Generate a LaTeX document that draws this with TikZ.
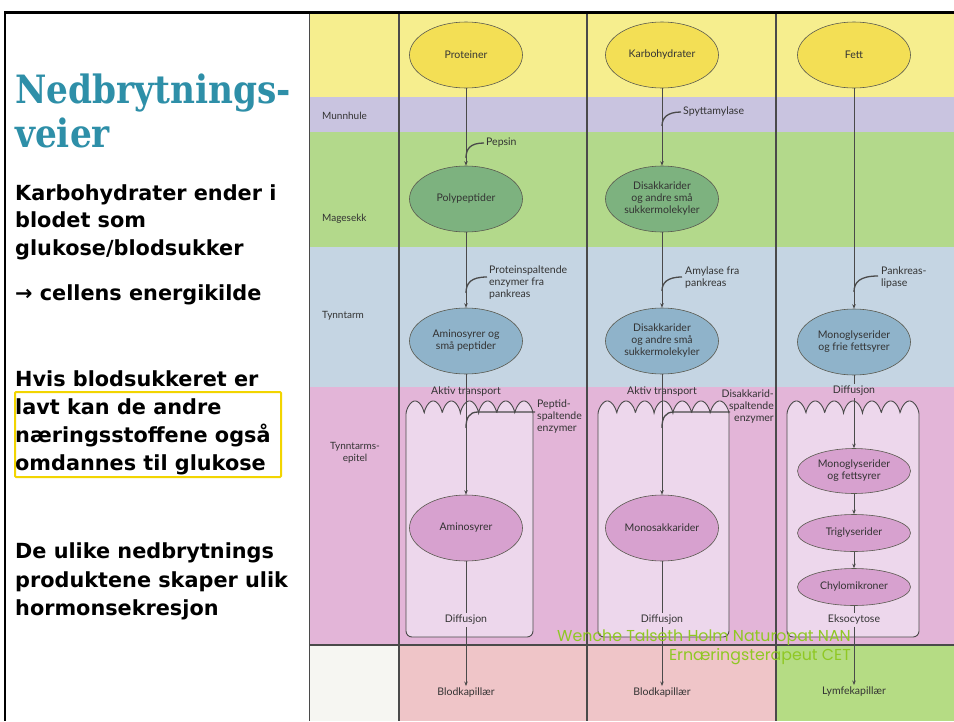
\documentclass[tikz,border=0pt]{standalone}
\usepackage{fontspec}
\usetikzlibrary{arrows.meta,shapes.geometric}
\setmainfont{Lato}
\newfontfamily\titlefont{DejaVu Serif}[FakeStretch=0.88]
\newfontfamily\bodyfont{DejaVu Sans}
\newfontfamily\wmfont{Poppins}
\definecolor{bandY}{HTML}{F6EE8E}
\definecolor{bandP}{HTML}{C9C4E0}
\definecolor{bandG}{HTML}{B3D98B}
\definecolor{bandB}{HTML}{C5D5E3}
\definecolor{bandK}{HTML}{E3B5D8}
\definecolor{innerK}{HTML}{EDD7EC}
\definecolor{botW}{HTML}{F6F6F2}
\definecolor{botR}{HTML}{EFC5C8}
\definecolor{botG}{HTML}{B5DC84}
\definecolor{ovY}{HTML}{F3DF55}
\definecolor{ovG}{HTML}{7DB27F}
\definecolor{ovB}{HTML}{8FB3CA}
\definecolor{ovP}{HTML}{D7A1CF}
\definecolor{ovline}{HTML}{5A5A50}
\definecolor{colline}{HTML}{4A4A4A}
\definecolor{txt}{HTML}{333333}
\definecolor{titlecol}{HTML}{2E8FA8}
\definecolor{ybox}{HTML}{F2D500}
\definecolor{wmgreen}{HTML}{8FC824}
\begin{document}
\begin{tikzpicture}[x=1pt,y=-1pt,
  oval/.style={ellipse, draw=ovline, line width=0.6pt, minimum width=113pt, minimum height=66pt,
    inner sep=0pt, align=center, text=txt, font=\fontsize{10.5}{12}\selectfont},
  yov/.style={oval, fill=ovY},
  gov/.style={oval, fill=ovG},
  bov/.style={oval, fill=ovB},
  pov/.style={oval, fill=ovP},
  lbl/.style={inner sep=2pt, text=txt, font=\fontsize{10.5}{12}\selectfont},
  enzlbl/.style={inner sep=1pt, text=txt, font=\fontsize{10.5}{12}\selectfont},
  side/.style={inner sep=0pt, text=txt, font=\fontsize{10}{12}\selectfont},
  arr/.style={draw=colline, line width=0.8pt, -{Stealth[length=4.5pt,width=3.5pt]}},
  plain/.style={draw=colline, line width=0.8pt},
  enz/.style={draw=colline, line width=1.3pt},
  boxline/.style={draw=colline, line width=0.9pt},
  title/.style={anchor=base west, inner sep=0pt, text=titlecol, font=\titlefont\bfseries\fontsize{39}{44}\selectfont},
  body/.style={anchor=base west, inner sep=0pt, font=\bodyfont\bfseries\fontsize{20.8}{28}\selectfont},
  wm/.style={anchor=base east, inner sep=0pt, text=wmgreen, font=\wmfont\fontsize{15.8}{18}\selectfont}
]
\useasboundingbox (0,0) rectangle (954,721);
\fill[white] (0,0) rectangle (954,721);
% bands
\fill[bandY] (310,12) rectangle (954,97);
\fill[bandP] (310,97) rectangle (954,132);
\fill[bandG] (310,132) rectangle (954,247);
\fill[bandB] (310,247) rectangle (954,387);
\fill[bandK] (310,387) rectangle (954,645);
\fill[botW] (310,645) rectangle (399,721);
\fill[botR] (399,645) rectangle (776,721);
\fill[botG] (776,645) rectangle (954,721);
% column lines
\draw[colline, line width=0.6pt] (309.7,13) -- (309.7,721);
\foreach \cx in {399,587,776}{\draw[colline, line width=1.2pt] (\cx,13) -- (\cx,721);}
\draw[colline, line width=1.2pt] (310,645) -- (954,645);
% frame
\draw[line width=3pt] (4,12) -- (954,12);
\draw[line width=2pt] (5,12) -- (5,721);
% epithelial cells with microvilli
\foreach \a/\b in {406/533,598/729,787/919}{
  \filldraw[fill=innerK, boxline] plot[domain=\a:\b, samples=300] (\x,{414-13*(abs(sin((\x-\a)/(\b-\a)*7*180))+0.001)^0.6})
    [rounded corners=6pt] -- (\b,637) -- (\a,637) -- (\a,414);
}
% side labels
\node[side, anchor=west] (munn) at (322,116) {Munnhule};
\node[side, anchor=west] (mage) at (322,219) {Magesekk};
\node[side, anchor=west] (tynn) at (322,316) {Tynntarm};
\node[side, align=center] (epi) at (355,453) {Tynntarms-\\epitel};
% ovals
\node[yov] (prot) at (466,55) {Proteiner};
\node[yov] (karb) at (662,55) {Karbohydrater};
\node[yov] (fett) at (854,55) {Fett};
\node[gov] (poly) at (466,199) {Polypeptider};
\node[gov] (disG) at (662,199) {Disakkarider\\og andre små\\sukkermolekyler};
\node[bov] (amp) at (466,341) {Aminosyrer og\\små peptider};
\node[bov] (disB) at (662,341) {Disakkarider\\og andre små\\sukkermolekyler};
\node[bov] (mgB) at (854,342) {Monoglyserider\\og frie fettsyrer};
\node[pov] (amino) at (466,528) {Aminosyrer};
\node[pov] (mono) at (662,528) {Monosakkarider};
\node[pov, minimum height=45pt] (mgP) at (854,471) {Monoglyserider\\og fettsyrer};
\node[pov, minimum height=37pt] (trig) at (854,533) {Triglyserider};
\node[pov, minimum height=37pt] (chylo) at (854,587) {Chylomikroner};
% process labels
\node[lbl] (akt1) at (466,392) {Aktiv transport};
\node[lbl] (akt2) at (662,392) {Aktiv transport};
\node[lbl] (dif3) at (854,391) {Diffusjon};
\node[lbl] (dif1) at (466,620) {Diffusjon};
\node[lbl] (dif2) at (662,620) {Diffusjon};
\node[lbl] (eks) at (854,620) {Eksocytose};
\node[lbl] (blod1) at (466,693) {Blodkapillær};
\node[lbl] (blod2) at (662,693) {Blodkapillær};
\node[lbl] (lymf) at (854,692) {Lymfekapillær};
% enzyme labels
\node[enzlbl, anchor=west] (pep) at (485,143) {Pepsin};
\node[enzlbl, anchor=west] (spytt) at (682,112) {Spyttamylase};
\node[enzlbl, anchor=west, align=left] (protenz) at (488,283) {Proteinspaltende\\enzymer fra\\pankreas};
\node[enzlbl, anchor=west, align=left] (amyl) at (684,278) {Amylase fra\\pankreas};
\node[enzlbl, anchor=west, align=left] (lip) at (880,278) {Pankreas-\\lipase};
\node[enzlbl, anchor=west, align=left] (pepenz) at (536,417) {Peptid-\\spaltende\\enzymer};
\node[enzlbl, anchor=east, align=right] (disenz) at (775,407) {Disakkarid-\\spaltende\\enzymer};
% connectors column 1
\draw[arr] (prot) -- (poly);
\draw[arr] (poly) -- (amp);
\draw[arr] (amp) -- (amino);
\draw[plain] (amino) -- (dif1);
\draw[arr] (dif1) -- (blod1);
% column 2
\draw[arr] (karb) -- (disG);
\draw[arr] (disG) -- (disB);
\draw[arr] (disB) -- (mono);
\draw[plain] (mono) -- (dif2);
\draw[arr] (dif2) -- (blod2);
% column 3
\draw[arr] (fett) -- (mgB);
\draw[plain] (mgB) -- (dif3);
\draw[arr] (dif3) -- (mgP);
\draw[arr] (mgP) -- (trig);
\draw[arr] (trig) -- (chylo);
\draw[plain] (chylo) -- (eks);
\draw[arr] (eks) -- (lymf);
% enzyme curves
\coordinate (pepS) at (484,143);  \coordinate (pepE) at (466,158);
\draw[enz] (pepS) .. controls (470,143) and (466,149) .. (pepE);
\coordinate (spS) at (681,112);  \coordinate (spE) at (662,126);
\draw[enz] (spS) .. controls (667,112) and (662,118) .. (spE);
\coordinate (peS) at (487,277);  \coordinate (peE) at (466,293);
\draw[enz] (peS) .. controls (471,277) and (466,283) .. (peE);
\coordinate (amS) at (682,277);  \coordinate (amE) at (662,291);
\draw[enz] (amS) .. controls (667,277) and (662,283) .. (amE);
\coordinate (liS) at (878,276);  \coordinate (liE) at (854,292);
\draw[enz] (liS) .. controls (860,276) and (854,282) .. (liE);
\coordinate (ppS) at (535,412);  \coordinate (ppM) at (478,412);  \coordinate (ppE) at (466,428);
\draw[enz] (ppS) -- (ppM) .. controls (469,412) and (466,418) .. (ppE);
\coordinate (dsS) at (730,412);  \coordinate (dsM) at (674,412);  \coordinate (dsE) at (662,428);
\draw[enz] (dsS) -- (dsM) .. controls (665,412) and (662,418) .. (dsE);
% left panel text
\node[title] (t1) at (15,103) {Nedbrytnings-};
\node[title] (t2) at (15,147) {veier};
\node[body] (b1) at (15,200) {Karbohydrater ender i};
\node[body] (b2) at (15,227) {blodet som};
\node[body] (b3) at (15,255) {glukose/blodsukker};
\node[body] (b4) at (15,300) {→ cellens energikilde};
\node[body] (c1) at (15,386) {Hvis blodsukkeret er};
\node[body] (c2) at (15,414) {lavt kan de andre};
\node[body] (c3) at (15,442) {næringsstoffene også};
\node[body] (c4) at (15,470) {omdannes til glukose};
\node[body] (d1) at (15,558) {De ulike nedbrytnings};
\node[body] (d2) at (15,587) {produktene skaper ulik};
\node[body] (d3) at (15,615) {hormonsekresjon};
\draw[ybox, line width=2pt, rounded corners=1pt] (15,392) rectangle (281,477);
% watermark
\node[wm] (wm1) at (851,641) {Wenche Talseth Holm Naturopat NAN};
\node[wm] (wm2) at (851,660) {Ernæringsterapeut CET};
\end{tikzpicture}
\end{document}
